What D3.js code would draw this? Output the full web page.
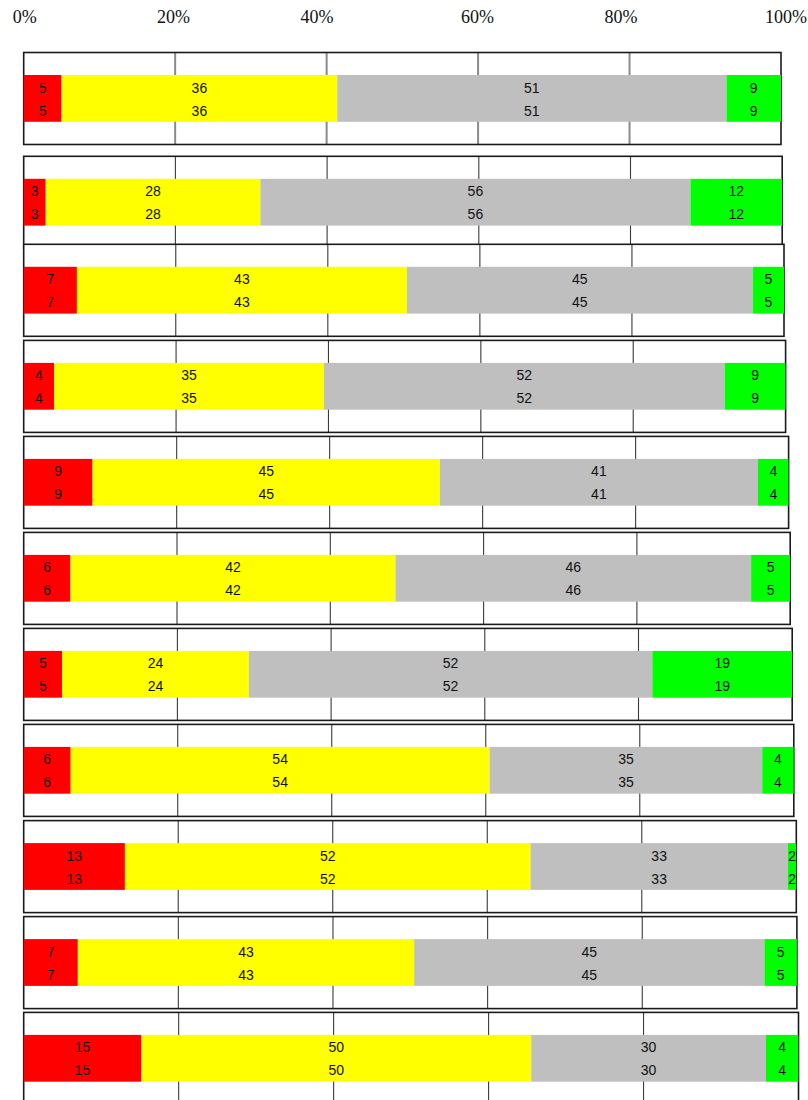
<!DOCTYPE html>
<html>
<head>
<meta charset="utf-8">
<script src="https://cdn.jsdelivr.net/npm/d3@7"></script>
<style>
  html, body { margin: 0; padding: 0; background: #fff; }
  svg { display: block; }
</style>
</head>
<body>
<script>
// ---------- data ----------
const seriesNames = ["Red", "Yellow", "Grey", "Green"];
const seriesColors = ["#ff0000", "#ffff00", "#bfbfbf", "#00ff00"];

// segment widths (percent of each bar)
const redShare    = [5.0, 2.9, 7.0, 4.0, 9.0, 6.1, 5.0, 6.1, 13.1, 7.0, 15.2];
const yellowShare = [36.4, 28.3, 43.4, 35.4, 45.4, 42.4, 24.3, 54.4, 52.5, 43.5, 50.3];
const greyShare   = [51.4, 56.7, 45.5, 52.6, 41.6, 46.4, 52.5, 35.4, 33.3, 45.3, 30.3];
const greenShare  = [7.2, 12.1, 4.1, 8.0, 4.0, 5.1, 18.2, 4.1, 1.1, 4.2, 4.2];

// printed labels
const redLabel    = [5, 3, 7, 4, 9, 6, 5, 6, 13, 7, 15];
const yellowLabel = [36, 28, 43, 35, 45, 42, 24, 54, 52, 43, 50];
const greyLabel   = [51, 56, 45, 52, 41, 46, 52, 35, 33, 45, 30];
const greenLabel  = [9, 12, 5, 9, 4, 5, 19, 4, 2, 5, 4];

const tickValues = [0, 20, 40, 60, 80, 100];
const tickLabels = ["0%", "20%", "40%", "60%", "80%", "100%"];

// ---------- layout ----------
const W = 808, H = 1100;
const x0 = 23.7;
const panelTops  = [52.5, 156.3, 244.3, 340.4, 436.4, 532.4, 628.4, 724.4, 820.6, 916.6, 1012.4];
const panelRight = [781, 782.2, 784, 785.6, 788.6, 790.2, 792.2, 793.8, 796.3, 796.9, 798.5];
const panelH = 92, barOff = 22.5, barH = 46.8;
const headerPos = [24.7, 173.5, 317, 477.5, 621, 786];

const shares = [redShare, yellowShare, greyShare, greenShare];
const labels = [redLabel, yellowLabel, greyLabel, greenLabel];

const svg = d3.select("body").append("svg")
  .attr("width", W).attr("height", H);

// header labels
const hx = d3.scaleLinear().domain(tickValues).range(headerPos);
svg.append("g").selectAll("text").data(tickValues).join("text")
  .attr("x", d => hx(d)).attr("y", 23)
  .attr("text-anchor", "middle")
  .attr("font-family", "'Liberation Serif','Times New Roman',serif")
  .attr("font-size", 18).attr("fill", "#111")
  .text((d, i) => tickLabels[i]);

const defs = svg.append("defs");

panelTops.forEach((top, p) => {
  const x = d3.scaleLinear().domain([0, 100]).range([x0, panelRight[p]]);
  const g = svg.append("g").attr("transform", `translate(0,${top})`);
  const cid = "clip" + p;
  defs.append("clipPath").attr("id", cid).append("rect")
    .attr("x", x0 - 1).attr("y", -1)
    .attr("width", panelRight[p] - x0 + 1).attr("height", panelH + 2);

  g.append("rect").attr("x", x0).attr("y", 0)
    .attr("width", panelRight[p] - x0).attr("height", panelH)
    .attr("fill", "#fff");

  // gridlines
  g.append("g").selectAll("line").data([20, 40, 60, 80]).join("line")
    .attr("x1", d => x(d)).attr("x2", d => x(d))
    .attr("y1", 0).attr("y2", panelH)
    .attr("stroke", p === 0 ? "#8a8a8a" : "#3a3a3a")
    .attr("stroke-width", p === 0 ? 2 : 1.1);

  // border
  g.append("rect").attr("x", x0).attr("y", 0)
    .attr("width", panelRight[p] - x0).attr("height", panelH)
    .attr("fill", "none").attr("stroke", "#1a1a1a").attr("stroke-width", 1.6);

  // stacked segments
  const segs = [];
  let cum = 0;
  shares.forEach((arr, s) => {
    const v = arr[p];
    segs.push({ s, start: cum, end: cum + v, label: labels[s][p] });
    cum += v;
  });
  const bars = g.append("g").attr("clip-path", `url(#${cid})`);
  bars.selectAll("rect").data(segs).join("rect")
    .attr("x", d => x(d.start))
    .attr("y", barOff)
    .attr("width", d => x(d.end) - x(d.start))
    .attr("height", barH)
    .attr("fill", d => seriesColors[d.s]);

  [17.5, 40.5].forEach(dy => {
    bars.append("g").selectAll("text").data(segs).join("text")
      .attr("x", d => (x(d.start) + x(d.end)) / 2)
      .attr("y", barOff + dy)
      .attr("text-anchor", "middle")
      .attr("font-family", "'Liberation Sans', Arial, sans-serif")
      .attr("font-size", 14)
      .attr("fill", "#111")
      .text(d => d.label);
  });
});
</script>
</body>
</html>
